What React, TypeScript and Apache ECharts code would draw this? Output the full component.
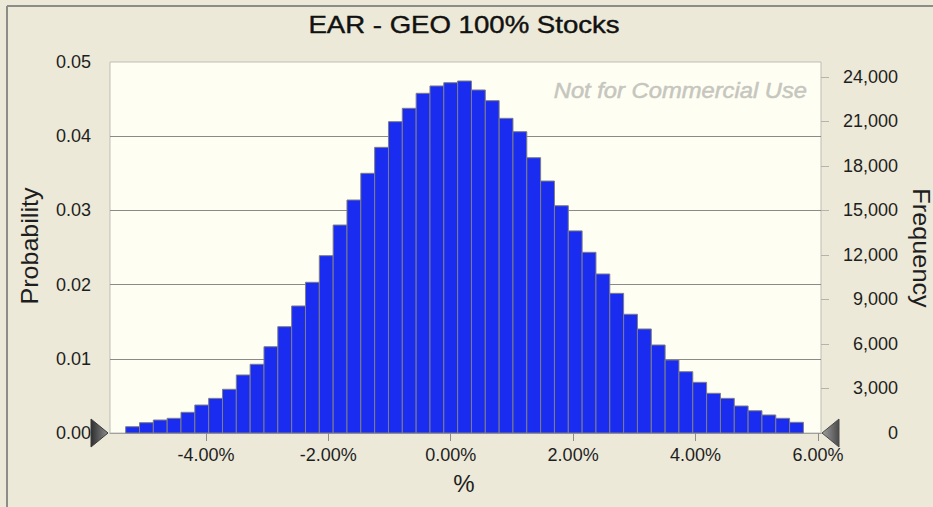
import React, { useEffect, useRef } from "react";
import * as echarts from "echarts";

// ---- data ----
const titleText = "EAR - GEO 100% Stocks";
const watermarkText = "Not for Commercial Use";
const xAxisName = "%";
const leftAxisName = "Probability";
const rightAxisName = "Frequency";

// histogram bin centres (%), bin width 0.226 %
const binWidth = 0.226;
const binCenters = [
  -5.198, -4.972, -4.746, -4.52, -4.294, -4.068, -3.842, -3.616, -3.39, -3.164,
  -2.938, -2.712, -2.486, -2.26, -2.034, -1.808, -1.582, -1.356, -1.13, -0.904,
  -0.678, -0.452, -0.226, 0, 0.226, 0.452, 0.678, 0.904, 1.13, 1.356,
  1.582, 1.808, 2.034, 2.26, 2.486, 2.712, 2.938, 3.164, 3.39, 3.616,
  3.842, 4.068, 4.294, 4.52, 4.746, 4.972, 5.198, 5.424, 5.65,
];
const probability = [
  0.00085, 0.00139, 0.00175, 0.00198, 0.00279, 0.00377, 0.00467, 0.00589, 0.00782, 0.00926,
  0.01163, 0.01433, 0.01712, 0.02031, 0.0239, 0.02803, 0.0314, 0.035, 0.0385, 0.04196,
  0.04376, 0.04578, 0.04677, 0.04721, 0.04744, 0.04623, 0.04479, 0.04241, 0.04061, 0.0371,
  0.03396, 0.03063, 0.02724, 0.02435, 0.02143, 0.01882, 0.016, 0.01402, 0.01186, 0.00984,
  0.00826, 0.00683, 0.00535, 0.00467, 0.00364, 0.003, 0.00243, 0.00198, 0.00144,
];
const xTicks = [-4, -2, 0, 2, 4, 6];
const xMin = -5.567;
const xMax = 6.05;
const probMax = 0.05;
const probInterval = 0.01;
const probTickMarks = [0.01, 0.02, 0.03, 0.04];
const freqMax = 25000;
const freqTicks = [0, 3000, 6000, 9000, 12000, 15000, 18000, 21000, 24000];

const FONT = "'Liberation Sans', Arial, sans-serif";

export default function App() {
  const ref = useRef<HTMLDivElement>(null);

  useEffect(() => {
    if (!ref.current) return;
    const chart = echarts.init(ref.current, null, { renderer: "svg" });

    const data = binCenters.map((c, i) => [c, probability[i]]);

    const option: any = {
      animation: false,
      backgroundColor: "#ECE9D8",
      grid: {
        left: 110,
        right: 112,
        top: 62,
        bottom: 74,
        show: true,
        backgroundColor: "#FEFEF3",
        borderColor: "#BDBDB5",
        borderWidth: 1,
      },
      xAxis: {
        type: "value",
        min: xMin,
        max: xMax,
        axisLine: { show: true, lineStyle: { color: "#A0A0A0", width: 1 } },
        axisTick: { show: true, customValues: xTicks, length: 8, lineStyle: { color: "#8C8C8C" } },
        axisLabel: {
          customValues: xTicks,
          formatter: (v: number) => v.toFixed(2) + "%",
          margin: 13,
          fontSize: 18,
          color: "#1E1E1E",
          fontFamily: FONT,
        },
        splitLine: { show: false },
      },
      yAxis: [
        {
          type: "value",
          position: "left",
          min: 0,
          max: probMax,
          interval: probInterval,
          axisLine: { show: false },
          axisTick: { show: true, customValues: probTickMarks, length: 10, lineStyle: { color: "#8A8A8A" } },
          axisLabel: {
            formatter: (v: number) => v.toFixed(2),
            margin: 19,
            fontSize: 18,
            color: "#1E1E1E",
            fontFamily: FONT,
          },
          splitLine: {
            show: true,
            lineStyle: { color: "#8A8A8A", width: 1 },
          },
        },
        {
          type: "value",
          position: "right",
          min: 0,
          max: freqMax,
          axisLine: { show: false },
          axisTick: { show: true, customValues: freqTicks, length: 8, lineStyle: { color: "#B4B4AC" } },
          axisLabel: {
            customValues: freqTicks,
            formatter: (v: number) => v.toLocaleString("en-US"),
            align: "right",
            margin: 77,
            fontSize: 18,
            color: "#1E1E1E",
            fontFamily: FONT,
          },
          splitLine: { show: false },
        },
      ],
      series: [
        {
          type: "custom",
          xAxisIndex: 0,
          yAxisIndex: 0,
          encode: { x: 0, y: 1 },
          data,
          renderItem: (params: any, api: any) => {
            const c = api.value(0);
            const v = api.value(1);
            const p0 = api.coord([c - binWidth / 2, 0]);
            const p1 = api.coord([c + binWidth / 2, v]);
            return {
              type: "rect",
              shape: { x: p0[0], y: p1[1], width: p1[0] - p0[0], height: p0[1] - p1[1] },
              style: { fill: "#1A2CF0", stroke: "#7E7E86", lineWidth: 1 },
            };
          },
        },
      ],
      graphic: [
        // outer sunken frame
        { id: "frameTop", type: "line", shape: { x1: 7, y1: 6, x2: 933, y2: 6 }, style: { stroke: "#8C8C88", lineWidth: 2 } },
        { id: "frameLeft", type: "line", shape: { x1: 7, y1: 6, x2: 7, y2: 507 }, style: { stroke: "#8C8C88", lineWidth: 2 } },
        {
          id: "title",
          type: "text",
          x: 464,
          y: 25,
          scaleX: 1.2,
          style: {
            text: titleText,
            font: `23px ${FONT}`,
            fill: "#111111",
            stroke: "#111111",
            lineWidth: 0.4,
            align: "center",
            verticalAlign: "middle",
          },
        },
        {
          id: "watermark",
          type: "text",
          x: 807,
          y: 90,
          scaleX: 1.08,
          z: 10,
          style: {
            text: watermarkText,
            font: `italic 22px ${FONT}`,
            fill: "#C6C6BE",
            stroke: "#C6C6BE",
            lineWidth: 0.5,
            align: "right",
            verticalAlign: "middle",
          },
        },
        {
          id: "probName",
          type: "text",
          x: 30,
          y: 246,
          rotation: Math.PI / 2,
          scaleX: 1.09,
          style: {
            text: leftAxisName,
            font: `23px ${FONT}`,
            fill: "#1E1E1E",
            align: "center",
            verticalAlign: "middle",
          },
        },
        {
          id: "freqName",
          type: "text",
          x: 921,
          y: 248,
          rotation: -Math.PI / 2,
          scaleX: 1.1,
          style: {
            text: rightAxisName,
            font: `23px ${FONT}`,
            fill: "#1E1E1E",
            align: "center",
            verticalAlign: "middle",
          },
        },
        {
          id: "xName",
          type: "text",
          x: 464,
          y: 483,
          style: {
            text: xAxisName,
            font: `24px ${FONT}`,
            fill: "#1E1E1E",
            align: "center",
            verticalAlign: "middle",
          },
        },
      ],
    };

    chart.setOption(option);

    // certainty grabbers at both ends of the x axis, placed through the axis scales
    const left = chart.convertToPixel({ xAxisIndex: 0, yAxisIndex: 0 }, [xMin, 0]) as number[];
    const right = chart.convertToPixel({ xAxisIndex: 0, yAxisIndex: 0 }, [xMax, 0]) as number[];
    chart.setOption({
      graphic: [
        {
          id: "grabLeft",
          type: "polygon",
          z: 20,
          shape: {
            points: [
              [left[0] - 19, left[1] - 14],
              [left[0] - 2, left[1]],
              [left[0] - 19, left[1] + 14],
            ],
          },
          style: {
            fill: new echarts.graphic.LinearGradient(0, 0, 1, 0, [
              { offset: 0, color: "#2E2E2E" },
              { offset: 1, color: "#8E8E8E" },
            ]),
            stroke: "#3A3A3A",
            lineWidth: 1,
          },
        },
        {
          id: "grabRight",
          type: "polygon",
          z: 20,
          shape: {
            points: [
              [right[0] + 1, right[1]],
              [right[0] + 18, right[1] - 14],
              [right[0] + 18, right[1] + 14],
            ],
          },
          style: {
            fill: new echarts.graphic.LinearGradient(0, 0, 1, 0, [
              { offset: 0, color: "#A0A0A0" },
              { offset: 1, color: "#4A4A4A" },
            ]),
            stroke: "#4A4A4A",
            lineWidth: 1,
          },
        },
      ],
    });

    return () => chart.dispose();
  }, []);

  return (
    <div
      ref={ref}
      style={{ position: "fixed", left: 0, top: 0, width: 933, height: 507, background: "#ECE9D8" }}
    />
  );
}
